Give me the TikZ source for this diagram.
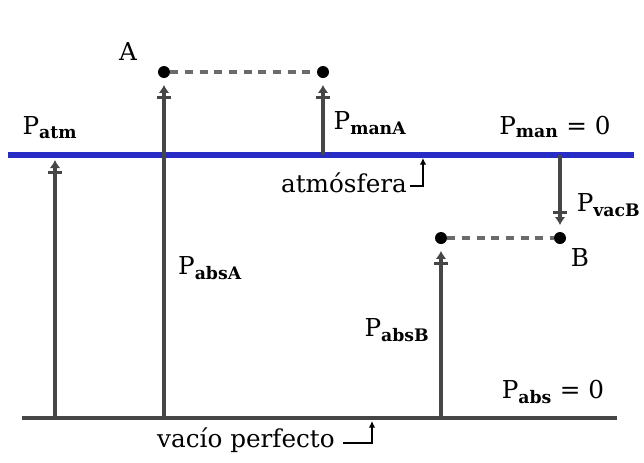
\documentclass[tikz,border=0pt]{standalone}
\usepackage{fontspec}
\setmainfont{DejaVu Serif}
\usetikzlibrary{arrows.meta,positioning}
\definecolor{gris}{RGB}{70,70,70}
\definecolor{azul}{RGB}{38,44,196}
\newcommand{\psub}[1]{\textsubscript{\bfseries #1}}

\tikzset{
    presion/.style={draw=gris, line width=2.4pt, -{Bar[width=10pt,line width=2.4pt,sep=2pt] Latex[length=6pt,width=8pt]}},
    punto/.style={circle, fill=black, inner sep=0pt, minimum size=9pt},
    guia/.style={draw=gris!80, line width=2.4pt, dash pattern=on 6pt off 5pt},
    gancho/.style={draw=black, line width=1.5pt, -{Latex[length=5pt,width=5pt]}},
    rotulo/.style={inner sep=1pt, font=\fontsize{18.5}{21}\selectfont},
}

\begin{document}
\begin{tikzpicture}[x=0.75pt, y=-0.75pt]
    \useasboundingbox (0,0) rectangle (644,462);

    % niveles de referencia
    \coordinate (atmI) at (8,155);
    \coordinate (atmD) at (634,155);
    \coordinate (vacI) at (22,418);
    \coordinate (vacD) at (617,418);
    \draw[azul, line width=4.5pt] (atmI) -- (atmD);
    \draw[gris, line width=2.4pt] (vacI) -- (vacD);

    % puntos A y B
    \node[punto] (A) at (164,72) {};
    \node[punto] (A2) at (323,72) {};
    \node[punto] (B) at (560,238) {};
    \node[punto] (B2) at (441,238) {};
    \draw[guia] (A) -- (A2);
    \draw[guia] (B2) -- (B);

    % presiones
    \coordinate (atm0) at (55,418);
    \coordinate (atm1) at (55,160);
    \coordinate (absA0) at (164,418);
    \coordinate (manA0) at (323,155);
    \coordinate (vacB0) at (560,155);
    \coordinate (absB0) at (441,418);
    \draw[presion] (atm0) -- (atm1);
    \draw[presion, shorten >=5pt] (absA0) -- (A);
    \draw[presion, shorten >=5pt] (manA0) -- (A2);
    \draw[presion, shorten >=5pt] (vacB0) -- (B);
    \draw[presion, shorten >=5pt] (absB0) -- (B2);

    % rotulos
    \node[rotulo] (lA) at (128,52) {A};
    \node[rotulo] (lB) at (580,258) {B};
    \node[rotulo] (lPatm) at (50,128) {P\psub{atm}};
    \node[rotulo] (lPmanA) at (370,123) {P\psub{manA}};
    \node[rotulo] (lPman) at (555,127) {P\psub{man} = 0};
    \node[rotulo, anchor=east] (lPvacB) at (642,205) {P\psub{vacB}};
    \node[rotulo] (lPabsA) at (210,268) {P\psub{absA}};
    \node[rotulo] (lPabsB) at (397,330) {P\psub{absB}};
    \node[rotulo] (lPabs) at (553,392) {P\psub{abs} = 0};
    \node[rotulo] (latmos) at (344,183) {atmósfera};
    \node[rotulo] (lvacio) at (246,440) {vacío perfecto};

    % indicadores
    \coordinate (hAtm) at (423,158);
    \coordinate (hVac) at (372,421);
    \draw[gancho] ([xshift=1pt,yshift=-2pt]latmos.east) -| (hAtm);
    \draw[gancho] ([xshift=5pt,yshift=-2pt]lvacio.east) -| (hVac);
\end{tikzpicture}
\end{document}
